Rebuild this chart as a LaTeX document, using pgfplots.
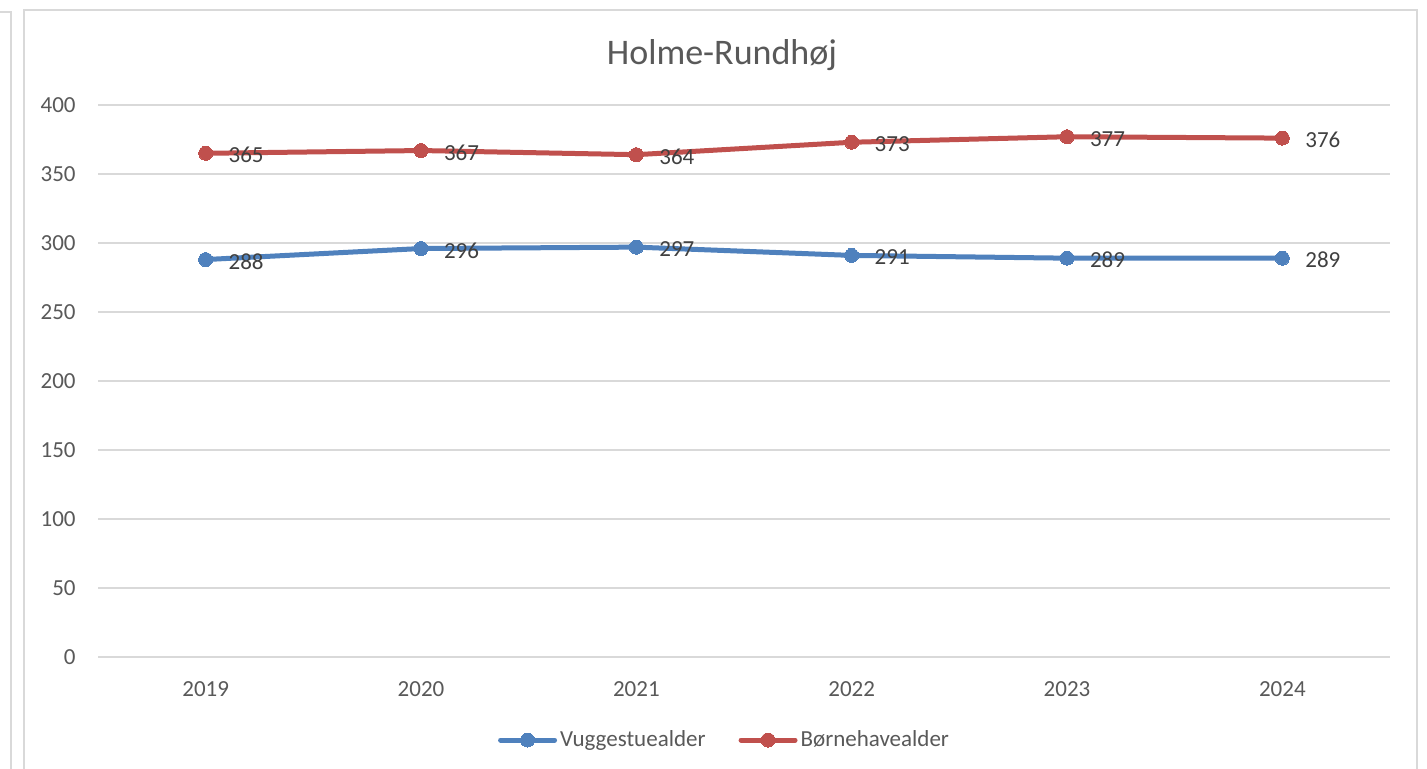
\documentclass[border=0pt]{standalone}
\usepackage{pgfplots}
\pgfplotsset{compat=1.18}
\usepackage{fontspec}
\setmainfont{Carlito}
\definecolor{txt}{HTML}{595959}
\definecolor{lbl}{HTML}{404040}
\definecolor{gridc}{HTML}{D9D9D9}
\definecolor{sblue}{HTML}{4F81BD}
\definecolor{sred}{HTML}{C0504D}
\begin{document}
\begin{tikzpicture}
\useasboundingbox (0,0) rectangle (713.5pt,384.5pt);
\clip (0,0) rectangle (713.5pt,384.5pt);
\fill[white] (0,0) rectangle (713.5pt,384.5pt);
\draw[gridc, line width=1pt] (0,378.5pt) -- (5.5pt,378.5pt) -- (5.5pt,-5pt);
\draw[gridc, line width=1pt] (12pt,-5pt) -- (12pt,379.5pt) -- (708.5pt,379.5pt) -- (708.5pt,-5pt);
\node[txt, font=\fontsize{18pt}{20pt}\selectfont] at (361pt,357pt) {Holme-Rundhøj};
\begin{axis}[
  at={(49pt,56pt)}, anchor=south west,
  scale only axis, width=646pt, height=276pt,
  xmin=-0.5, xmax=5.5, ymin=0, ymax=400,
  xtick={0,1,2,3,4,5},
  xticklabels={2019,2020,2021,2022,2023,2024},
  ytick={0,50,...,400},
  ymajorgrids, grid style={gridc, line width=0.75pt},
  axis line style={draw=none},
  major tick length=0pt,
  tick label style={txt, font=\fontsize{11.5pt}{13pt}\selectfont},
  /pgf/number format/assume math mode=true,
  yticklabel style={anchor=east, inner sep=0pt, xshift=-11pt},
  xticklabel style={anchor=north, inner sep=0pt, yshift=-12pt},
  nodes near coords,
  every node near coord/.append style={anchor=west, inner sep=0pt, xshift=11.5pt, yshift=-1pt, lbl, font=\fontsize{11.5pt}{13pt}\selectfont},
  legend style={at={(0.4853,-0.1504)}, anchor=center, draw=none, fill=none,
    legend columns=2, font=\fontsize{11.5pt}{13pt}\selectfont, text=txt,
    nodes={inner sep=1.5pt},
    /tikz/every even column/.append style={column sep=15pt}},
  legend cell align=left,
  legend image code/.code={\draw[#1, mark repeat=2, mark phase=2] plot coordinates {(0pt,0pt) (13.5pt,0pt) (27pt,0pt)};},
]
\addplot[sblue, line width=2.5pt, line cap=round, line join=round, mark=*, mark size=3.5pt, mark options={solid, fill=sblue, draw=sblue, line width=0pt}]
  coordinates {(0,288) (1,296) (2,297) (3,291) (4,289) (5,289)};
\addlegendentry{Vuggestuealder}
\addplot[sred, line width=2.5pt, line cap=round, line join=round, mark=*, mark size=3.5pt, mark options={solid, fill=sred, draw=sred, line width=0pt}]
  coordinates {(0,365) (1,367) (2,364) (3,373) (4,377) (5,376)};
\addlegendentry{Børnehavealder}
\end{axis}
\end{tikzpicture}
\end{document}
